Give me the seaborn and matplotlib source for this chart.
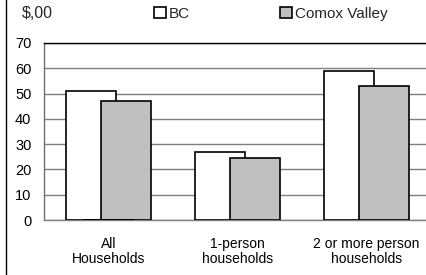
import pandas as pd
import matplotlib
matplotlib.use('Agg')
import matplotlib.pyplot as plt
import seaborn as sns

# values
categories = ['All\nHouseholds', '1-person\nhouseholds', '2 or more person\nhouseholds']
regions = ['BC', 'Comox Valley']
bc_values = [50.9, 26.8, 58.9]
comox_values = [47.2, 24.5, 53.0]
y_ticks = [0, 10, 20, 30, 40, 50, 60, 70]

df = pd.DataFrame({
    'category': categories * 2,
    'region': [regions[0]] * 3 + [regions[1]] * 3,
    'value': bc_values + comox_values,
})

sns.set_style('white')
plt.rcParams['font.family'] = ['Liberation Sans', 'DejaVu Sans']

W, H = 427, 275
fig = plt.figure(figsize=(W / 100, H / 100), dpi=100)
ax = fig.add_axes([44 / W, 55 / H, 387 / W, 177 / H])

sns.barplot(data=df, x='category', y='value', hue='region', order=categories,
            hue_order=regions, palette=['white', '#c0c0c0'], dodge=True,
            width=0.528, edgecolor='black', linewidth=1.2, errorbar=None,
            saturation=1, ax=ax, zorder=3)

# excel-like overlapping bars: widen each bar around its own center
bar_w = 0.388
for p in ax.patches:
    c = p.get_x() + p.get_width() / 2
    p.set_width(bar_w)
    p.set_x(c - bar_w / 2)

ax.set_xlim(-0.5, 2.5)
ax.set_ylim(0, 70)
ax.set_yticks(y_ticks)
ax.set_xlabel('')
ax.set_ylabel('')
ax.yaxis.grid(True, color='#7f7f7f', linewidth=1, zorder=0)
ax.set_axisbelow(True)
ax.tick_params(axis='y', length=0, pad=9, labelsize=10.5, colors='black')
ax.tick_params(axis='x', length=0, pad=12, labelsize=10, colors='black')
for lbl in ax.get_xticklabels():
    lbl.set_linespacing(1.15)

ax.spines['right'].set_visible(False)
ax.spines['top'].set_color('black')
ax.spines['left'].set_color('#6f6f6f')
ax.spines['bottom'].set_color('#7f7f7f')
for s in ax.spines.values():
    s.set_linewidth(1)

handles, labels = ax.get_legend_handles_labels()
ax.get_legend().remove()
for h in handles:
    h.set_linewidth(1.2)
fig.legend(handles, labels, loc='center left', bbox_to_anchor=(154 / W, 1 - 14 / H),
           ncol=2, frameon=False, fontsize=11, handlelength=0.78,
           handleheight=0.78, handletextpad=0.2, columnspacing=5.9,
           borderpad=0, borderaxespad=0)

fig.text(22 / W, 1 - 14 / H, '$,00', fontsize=11.5, va='center', ha='left')

# outer chart frame edge on the left
fig.add_artist(plt.Line2D([6.5 / W, 6.5 / W], [0, 1], color='black', linewidth=1,
                          transform=fig.transFigure))

fig.savefig('out.png', dpi=100)
